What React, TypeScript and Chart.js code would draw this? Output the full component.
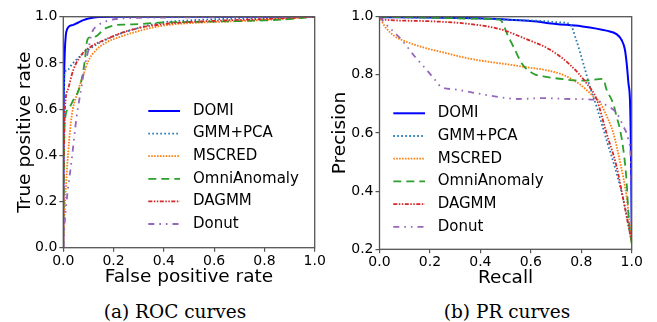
import React, { useEffect, useRef } from 'react';
import { Chart, registerables } from 'chart.js';
Chart.register(...registerables);

// ---------- data ----------
const seriesLabels = ['DOMI', 'GMM+PCA', 'MSCRED', 'OmniAnomaly', 'DAGMM', 'Donut'];
const xTicks = [0, 0.2, 0.4, 0.6, 0.8, 1.0];
const rocYTicks = [0, 0.2, 0.4, 0.6, 0.8, 1.0];
const prYTicks = [0.2, 0.4, 0.6, 0.8, 1.0];

// ROC curves: [false positive rate, true positive rate]
const rocDomi = [[0, 0], [0.001, 0.5], [0.003, 0.72], [0.006, 0.85], [0.01, 0.92], [0.015, 0.945], [0.02, 0.955], [0.04, 0.965], [0.06, 0.975], [0.08, 0.985], [0.1, 0.992], [0.13, 0.998], [0.2, 1], [0.4, 1], [0.6, 1], [0.8, 1], [1, 1]];
const rocGmm = [[0, 0], [0.001, 0.45], [0.003, 0.7], [0.008, 0.763], [0.02, 0.772], [0.033, 0.792], [0.066, 0.828], [0.1, 0.857], [0.15, 0.89], [0.2, 0.915], [0.25, 0.935], [0.3, 0.952], [0.35, 0.966], [0.4, 0.976], [0.5, 0.984], [0.6, 0.989], [0.8, 0.994], [1, 1]];
const rocMscred = [[0, 0], [0.003, 0.1], [0.007, 0.2], [0.02, 0.42], [0.033, 0.567], [0.053, 0.66], [0.079, 0.745], [0.1, 0.81], [0.13, 0.855], [0.165, 0.885], [0.231, 0.915], [0.297, 0.937], [0.363, 0.955], [0.43, 0.966], [0.5, 0.972], [0.6, 0.977], [0.7, 0.981], [0.8, 0.986], [0.9, 0.992], [1, 1]];
const rocOmni = [[0, 0], [0.002, 0.3], [0.005, 0.53], [0.02, 0.6], [0.04, 0.64], [0.066, 0.697], [0.086, 0.814], [0.093, 0.887], [0.1, 0.908], [0.13, 0.915], [0.16, 0.945], [0.2, 0.962], [0.25, 0.966], [0.3, 0.968], [0.38, 0.974], [0.5, 0.977], [0.6, 0.979], [0.8, 0.984], [0.9, 0.99], [1, 1]];
const rocDagmm = [[0, 0], [0.001, 0.3], [0.003, 0.45], [0.007, 0.61], [0.02, 0.69], [0.04, 0.77], [0.073, 0.836], [0.112, 0.872], [0.165, 0.9], [0.231, 0.93], [0.297, 0.95], [0.363, 0.963], [0.45, 0.973], [0.6, 0.982], [0.8, 0.99], [1, 1]];
const rocDonut = [[0, 0], [0.005, 0.1], [0.013, 0.2], [0.033, 0.378], [0.053, 0.567], [0.073, 0.7], [0.086, 0.79], [0.1, 0.857], [0.112, 0.925], [0.139, 0.963], [0.17, 0.98], [0.211, 0.99], [0.3, 0.995], [0.5, 0.997], [1, 1]];

// PR curves: [recall, precision]
const prDomi = [[0, 0.998], [0.2, 0.997], [0.4, 0.995], [0.5, 0.99], [0.6, 0.985], [0.7, 0.975], [0.8, 0.967], [0.9, 0.952], [0.94, 0.94], [0.96, 0.92], [0.973, 0.887], [0.98, 0.84], [0.987, 0.772], [0.993, 0.715], [0.996, 0.6], [0.998, 0.45], [1, 0.25]];
const prGmm = [[0, 1], [0.1, 0.998], [0.3, 0.995], [0.5, 0.99], [0.65, 0.985], [0.72, 0.98], [0.755, 0.975], [0.78, 0.92], [0.808, 0.84], [0.834, 0.76], [0.861, 0.69], [0.9, 0.577], [0.94, 0.462], [0.973, 0.347], [0.993, 0.256], [1, 0.23]];
const prMscred = [[0, 1], [0.02, 0.968], [0.06, 0.933], [0.1, 0.916], [0.179, 0.893], [0.258, 0.876], [0.338, 0.859], [0.417, 0.847], [0.516, 0.835], [0.6, 0.824], [0.649, 0.818], [0.728, 0.8], [0.795, 0.767], [0.848, 0.726], [0.874, 0.705], [0.9, 0.66], [0.927, 0.6], [0.954, 0.5], [0.98, 0.38], [0.993, 0.28], [1, 0.22]];
const prOmni = [[0, 1], [0.2, 0.997], [0.4, 0.993], [0.477, 0.99], [0.51, 0.933], [0.536, 0.888], [0.563, 0.841], [0.583, 0.82], [0.62, 0.8], [0.649, 0.795], [0.728, 0.785], [0.808, 0.78], [0.887, 0.786], [0.9, 0.75], [0.927, 0.7], [0.94, 0.657], [0.954, 0.61], [0.967, 0.542], [0.98, 0.43], [0.987, 0.32], [0.993, 0.26], [1, 0.22]];
const prDagmm = [[0, 0.995], [0.02, 0.99], [0.179, 0.985], [0.377, 0.973], [0.483, 0.956], [0.576, 0.925], [0.675, 0.887], [0.755, 0.835], [0.82, 0.772], [0.861, 0.716], [0.9, 0.6], [0.94, 0.485], [0.967, 0.37], [0.993, 0.256], [1, 0.23]];
const prDonut = [[0, 1], [0.02, 0.979], [0.06, 0.945], [0.086, 0.922], [0.113, 0.893], [0.139, 0.864], [0.192, 0.812], [0.219, 0.784], [0.245, 0.758], [0.298, 0.75], [0.377, 0.738], [0.457, 0.726], [0.55, 0.717], [0.649, 0.72], [0.755, 0.717], [0.848, 0.715], [0.9, 0.695], [0.94, 0.669], [0.967, 0.623], [0.987, 0.577], [0.996, 0.52], [1, 0.41]];

// ---------- styles ----------
const seriesColors = ['#0000ff', '#1f77b4', '#ff7f0e', '#2ca02c', '#d62728', '#9467bd'];
const seriesWidths = [2, 1.8, 1.8, 1.8, 1.8, 1.8];
const seriesDash: number[][] = [[], [1.6, 2.4], [1.6, 1.3], [8, 5], [4, 1.5, 1.5, 1.5, 1.5, 1.5], [6, 5, 1.6, 5, 1.6, 5]];

const SANS = 'DejaVu Sans';
const fmt = (v: number) => Number(v).toFixed(1);

const frameLegendPlugin = {
  id: 'frameLegend',
  afterDatasetsDraw(chart: any, _args: any, opts: any) {
    const ctx = chart.ctx;
    const a = chart.chartArea;
    ctx.save();
    ctx.strokeStyle = '#555';
    ctx.lineWidth = 1.3;
    ctx.setLineDash([]);
    ctx.strokeRect(a.left, a.top, a.right - a.left, a.bottom - a.top);
    chart.data.datasets.forEach((ds: any, i: number) => {
      const yy = opts.y + i * opts.spacing;
      ctx.strokeStyle = ds.borderColor;
      ctx.lineWidth = ds.borderWidth;
      ctx.setLineDash(ds.borderDash || []);
      ctx.beginPath();
      ctx.moveTo(opts.x, yy);
      ctx.lineTo(opts.x + opts.len, yy);
      ctx.stroke();
      ctx.setLineDash([]);
      ctx.fillStyle = '#000';
      ctx.font = `15px "${SANS}"`;
      ctx.textBaseline = 'middle';
      ctx.textAlign = 'left';
      ctx.fillText(ds.label, opts.x + opts.len + opts.gap, yy);
    });
    ctx.restore();
  },
};

function buildConfig(p: any) {
  const datasets = p.series.map((pts: number[][], i: number) => ({
    label: seriesLabels[i],
    data: pts.map(([x, y]) => ({ x, y })),
    borderColor: seriesColors[i],
    borderWidth: seriesWidths[i],
    borderDash: seriesDash[i],
    borderCapStyle: 'butt',
    pointRadius: 0,
    fill: false,
    order: 10 - i,
    cubicInterpolationMode: 'monotone',
  }));
  const tickFont = { family: SANS, size: 14 };
  const titleFont = { family: SANS, size: 18.5, lineHeight: 1.1 };
  const grid = { drawOnChartArea: false, drawTicks: true, tickLength: 4, color: '#555', lineWidth: 1.2 };
  return {
    type: 'line',
    data: { datasets },
    plugins: [frameLegendPlugin],
    options: {
      responsive: false,
      animation: false,
      events: [],
      layout: { padding: { top: 16.7, right: p.padRight, left: 0, bottom: 0 } },
      plugins: {
        legend: { display: false },
        tooltip: { enabled: false },
        frameLegend: p.legend,
      },
      scales: {
        x: {
          type: 'linear',
          min: 0,
          max: 1,
          afterBuildTicks: (s: any) => { s.ticks = xTicks.map((v) => ({ value: v })); },
          afterFit: (s: any) => { s.height = p.xAxisH; },
          ticks: { callback: fmt, font: tickFont, color: '#000', padding: 1, maxRotation: 0, autoSkip: false },
          grid,
          border: { display: false },
          title: { display: true, text: p.xTitle, font: titleFont, color: '#000', padding: { top: 0, bottom: p.xTitlePad } },
        },
        y: {
          type: 'linear',
          min: p.yMin,
          max: 1,
          afterBuildTicks: (s: any) => { s.ticks = p.yTicks.map((v: number) => ({ value: v })); },
          afterFit: (s: any) => { s.width = p.yAxisW; },
          ticks: { callback: fmt, font: tickFont, color: '#000', padding: 2, autoSkip: false },
          grid,
          border: { display: false },
          title: { display: true, text: p.yTitle, font: titleFont, color: '#000', padding: { top: p.yTitlePad, bottom: 0 } },
        },
      },
    },
  };
}

function Panel(props: { left: number; width: number; height: number; cfg: any }) {
  const ref = useRef<HTMLCanvasElement>(null);
  useEffect(() => {
    if (!ref.current) return;
    const chart = new Chart(ref.current, buildConfig(props.cfg) as any);
    return () => chart.destroy();
  }, []);
  return (
    <canvas
      ref={ref}
      width={props.width}
      height={props.height}
      style={{ position: 'absolute', left: props.left, top: 0, width: props.width, height: props.height }}
    />
  );
}

const rocCfg = {
  series: [rocDomi, rocGmm, rocMscred, rocOmni, rocDagmm, rocDonut],
  yMin: 0,
  yTicks: rocYTicks,
  xTitle: 'False positive rate',
  yTitle: 'True positive rate',
  padRight: 14.3,
  xAxisH: 295 - 247.7,
  yAxisW: 63.3,
  xTitlePad: 8,
  yTitlePad: 15,
  legend: { x: 148.3, y: 111, spacing: 22.6, len: 31.7, gap: 13 },
};

const prCfg = {
  series: [prDomi, prGmm, prMscred, prOmni, prDagmm, prDonut],
  yMin: 0.2,
  yTicks: prYTicks,
  xTitle: 'Recall',
  yTitle: 'Precision',
  padRight: 25.3,
  xAxisH: 295 - 249.3,
  yAxisW: 379.5 - 329,
  xTitlePad: 7,
  yTitlePad: 1,
  legend: { x: 393.3 - 329, y: 113.3, spacing: 22.7, len: 31.7, gap: 12.7 },
};

export default function App() {
  const cap: React.CSSProperties = {
    position: 'absolute',
    top: 301,
    fontFamily: '"DejaVu Serif", serif',
    fontSize: 18.5,
    lineHeight: '22px',
    color: '#000',
    whiteSpace: 'nowrap',
    transform: 'translateX(-50%)',
  };
  return (
    <div style={{ position: 'fixed', left: 0, top: 0, width: 657, height: 322, background: '#fff', overflow: 'hidden' }}>
      <Panel left={0} width={329} height={295} cfg={rocCfg} />
      <Panel left={329} width={328} height={295} cfg={prCfg} />
      <div style={{ ...cap, left: 175 }}>(a) ROC curves</div>
      <div style={{ ...cap, left: 507 }}>(b) PR curves</div>
    </div>
  );
}
